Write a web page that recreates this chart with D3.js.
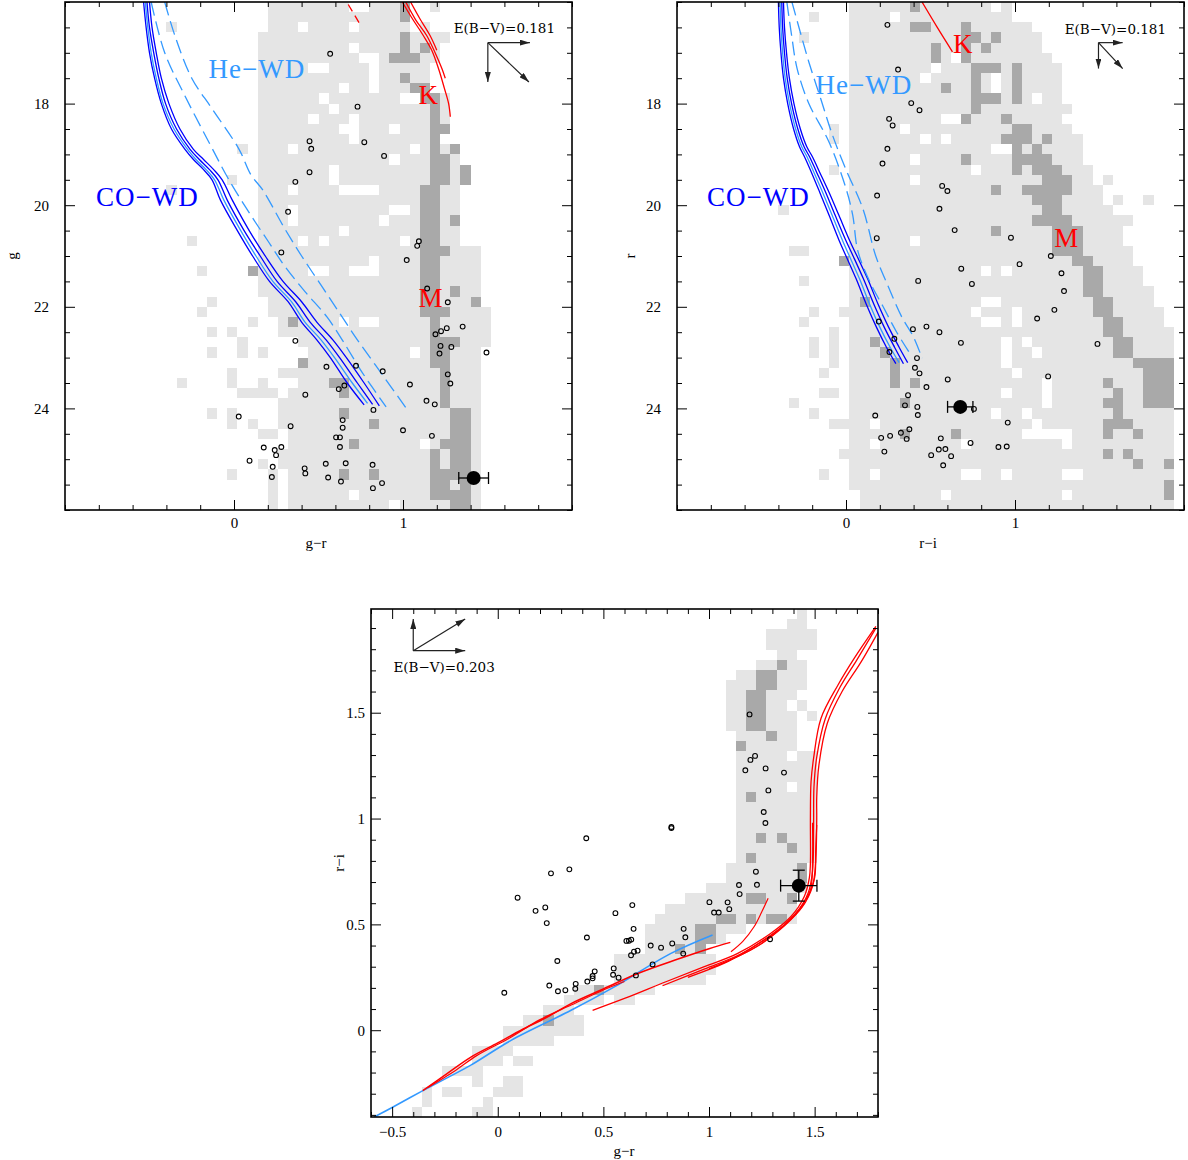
<!DOCTYPE html>
<html>
<head>
<meta charset="utf-8">
<script src="https://cdn.jsdelivr.net/npm/d3@7"></script>
<style>
  body { margin: 0; background: #fff; }
  svg { display: block; }
</style>
</head>
<body>
<div id="chart"></div>
<script>
// colours
var LIGHT = "#e5e5e5", DARK = "#a9a9a9", BLUE = "#0000ff", LBLUE = "#3399ff", RED = "#ff0000";

// ---------- panel 1 : g vs g-r ----------
// density map, one string per 0.2 mag row (o = light, X = dark), first char is bin 9 of 50
var p1Rows = [
  "...........oooooooo..oooX..o......",
  "...........oooooooooooooX.........",
  ".o.........ooo.oooo.ooooo.o.......",
  "..........ooooooooooooooXoooo.....",
  "..........ooooooooo.ooooXoXo......",
  "..........oooooooooo..oXXXoo......",
  "..........ooooo..oooo.ooooo.......",
  "..........ooooooooooo.ooXoo.......",
  "..........oooooooo.oo.oooXX.......",
  "..........oooooo.ooooooo..XXo.....",
  "..........ooooooo.oooooooooXo.....",
  "..........ooooo.ooo.oooooooXo.....",
  "..........oooooooo..ooo.oooXX.....",
  "..........ooooooooo.oooooooX......",
  "........o.ooo.ooooooooooo.oXoX....",
  "..........ooooooooooooo.oooXXo....",
  "..........ooooooo.oooooooooXXoX...",
  ".......o..ooooooo.oooooooooXXoX...",
  ".o........ooo.oooo....ooooXXoo....",
  "..........ooooooooooooooooXXoo....",
  "..........ooo.ooooooooo..oXXoo....",
  "..........ooo.oooooooo.oooXXoX....",
  "..........oooooooo.oooooooXXoo....",
  "...o......oooo.o.ooooooo.oXXoo....",
  "..........ooooooooooooooooXXXooo..",
  "..........ooooooooooo.ooooXXoooo..",
  "....o....Xooooo..oo...ooooXXoooo..",
  "..........ooooooooooooooooXXoooo..",
  "..........ooooooooooooooooXXoXoo..",
  ".....o.....oooooooooooooooXXoooX..",
  "....o......oooooooooooooooXXXoooo.",
  ".........o..oXoooo.o..oooooXooooo.",
  ".....o.o....oooooooooooooooXooooo.",
  "........o.....oooooooooooooXXXooo.",
  ".....o..o.o....oooooooooo.oXXooo..",
  "..............XooooooooooooXXooo..",
  ".......o....ooooooooooooooooXooo..",
  "..o....o..o...oooXXoooooooooXooo..",
  "........oooo.oooooXoooooooooXooo..",
  "............ooooooooooooooooXooo..",
  ".....o.o....ooooooXooooooooooXXo..",
  ".......o.o..oooooooooXoooooooXXo..",
  "..........oo.ooooooooooooooooXXo..",
  ".............ooooooXoooooo.oXXXo..",
  "............oooooooooooooooXoXXo..",
  "..........o.oooooooooooooooXoXXo..",
  ".......o...o.oooooXooXoooooXXXXo..",
  "...........o.ooooooooooooooXXoXo..",
  "...........o.oooooo.oooooooXXXXo..",
  "...........o.oooooooooo.oooooXXo.."
];
var p1CoA = [[-0.535,16.0],[-0.52,16.5],[-0.50,17.0],[-0.47,17.5],[-0.43,18.0],[-0.37,18.5],[-0.29,18.9],[-0.24,19.1],[-0.18,19.3],[-0.13,19.5],[-0.08,19.9],[0.02,20.5],[0.11,21.0],[0.21,21.5],[0.32,21.9],[0.40,22.3],[0.49,22.65],[0.57,23.0],[0.67,23.5],[0.77,23.93]];
var p1CoB = [[-0.525,16.0],[-0.51,16.5],[-0.49,17.0],[-0.46,17.5],[-0.42,18.0],[-0.355,18.5],[-0.275,18.9],[-0.225,19.1],[-0.165,19.3],[-0.115,19.5],[-0.06,19.9],[0.04,20.5],[0.13,21.0],[0.23,21.5],[0.34,21.9],[0.42,22.3],[0.515,22.65],[0.595,23.0],[0.70,23.5],[0.79,23.9]];
var p1CoC = [[-0.515,16.0],[-0.50,16.5],[-0.475,17.0],[-0.445,17.5],[-0.405,18.0],[-0.34,18.5],[-0.26,18.9],[-0.205,19.1],[-0.145,19.3],[-0.095,19.5],[-0.04,19.9],[0.06,20.5],[0.155,21.0],[0.255,21.5],[0.365,21.9],[0.45,22.3],[0.545,22.65],[0.625,23.0],[0.73,23.5],[0.82,23.92]];
var p1CoD = [[-0.50,16.0],[-0.485,16.5],[-0.46,17.0],[-0.43,17.5],[-0.385,18.0],[-0.32,18.5],[-0.24,18.9],[-0.18,19.1],[-0.12,19.3],[-0.07,19.5],[-0.01,19.9],[0.09,20.5],[0.185,21.0],[0.29,21.5],[0.40,21.9],[0.49,22.3],[0.585,22.65],[0.665,23.0],[0.77,23.5],[0.86,23.95]];
var p1HeA = [[-0.49,16.0],[-0.41,17.0],[-0.29,17.85],[-0.15,18.75],[-0.03,19.5],[0.10,20.2],[0.20,20.7],[0.30,21.2],[0.42,21.7],[0.55,22.2],[0.64,22.65],[0.76,23.3],[0.90,23.97]];
var p1HeB = [[-0.41,16.0],[-0.35,16.66],[-0.25,17.5],[-0.13,18.1],[0.03,18.9],[0.10,19.4],[0.17,19.7],[0.30,20.46],[0.40,21.0],[0.52,21.6],[0.63,22.15],[0.73,22.65],[0.87,23.3],[1.02,24.0]];
var p1K1 = [[0.996,16.0],[1.05,16.3],[1.12,16.66],[1.17,16.95],[1.21,17.31],[1.245,17.7],[1.27,18.0],[1.28,18.26]];
var p1K2 = [[1.016,16.0],[1.075,16.35],[1.14,16.66],[1.19,17.0],[1.23,17.31],[1.25,17.5]];
var p1K3 = [[1.045,16.0],[1.10,16.33],[1.16,16.66],[1.20,16.95]];
var p1KDash = [[0.676,16.05],[0.755,16.49]];
var p1Open = [[0.569,17.02],[0.731,18.06],[0.447,18.74],[0.457,18.89],[0.771,18.76],[0.888,19.03],[0.447,19.35],[0.363,19.54],[0.32,20.13],[1.094,20.71],[1.084,20.80],[0.28,20.93],
  [1.022,21.08],[1.143,21.64],[1.265,21.91],[1.192,22.54],[1.225,22.48],[1.259,22.42],[1.353,22.39],
  [0.363,22.67],[1.222,22.77],[1.286,22.79],[1.216,22.92],[1.494,22.90],[0.547,23.18],[0.722,23.16],[0.88,23.27],[1.265,23.33],[1.28,23.51],[0.653,23.55],[0.62,23.62],[1.041,23.53],[0.422,23.73],[1.139,23.85],[1.188,23.92],[0.825,24.03],[0.028,24.16],[0.643,24.23],[0.643,24.38],[0.335,24.35],[1.0,24.43],[1.171,24.54],[0.604,24.57],[0.627,24.57],[0.627,24.76],[0.176,24.77],[0.241,24.82],[0.28,24.76],[0.249,24.92],[0.092,25.03],[0.229,25.15],[0.224,25.35],[0.418,25.18],[0.422,25.28],[0.543,25.09],[0.661,25.08],[0.557,25.36],[0.633,25.44],[0.82,25.11],[0.822,25.57],[0.876,25.47]];
var p1Dot = {x: 1.418, y: 25.37, ex: 0.088, ey: 0};

// ---------- panel 2 : r vs r-i ----------
// runs "from:to class" in colour bins (bin index = value + 17)
var p2Rows = [
  "0:5o 6X 7:13o 15o",
  "-4o 0:3o 5:15o",
  "0:5o 6:7X 8:10o 11X 12:17o",
  "-5o 0:10o 11:12X 13o 14X 15:18o",
  "0:7o 8X 9:10o 11X 12o 13X 14:18o",
  "0:7o 8X 9o 11X 12:19o",
  "0:7o 9:11o 12:14X 15o 16X 17:20o",
  "0:6o 8:11o 12X 13o 15o 16X 17:20o",
  "0:8o 9X 10:11o 12X 13o 15o 16X 17:20o",
  "0:11o 12:14X 15o 16X 17o 19:20o",
  "0:11o 12X 13:21o",
  "0:8o 11X 12:14o 15X 16:20o",
  "-2o 0:4o 6:15o 16:17X 18:21o",
  "-2o 0:6o 8o 10:14o 15:17X 18o 19X 20:22o",
  "0:13o 16X 17o 18X 19:22o",
  "0:5o 7:10o 11X 12:15o 16:19X 20:22o",
  "-2o 0:11o 13:15o 16X 17o 18:20X 21:23o",
  "0:5o 7:18o 19:21X 22:23o 25o",
  "0:13o 14X 15:16o 17:21X 22:24o",
  "0:17o 18:20X 21:24o 26o 29o",
  "-7o 0:18o 19:20X 21:25o",
  "0:17o 18:21X 22:27o",
  "0:13o 14X 15:19o 20:22X 23:26o",
  "0:5o 7:19o 20:22X 23:26o",
  "-6:-5o 0:19o 20:22X 23:27o",
  "-1X 0:21o 22:23X 24:27o",
  "0:12o 14o 16:22o 23:24X 25:28o",
  "-5o 0:22o 23:24X 25:28o",
  "0:22o 23:24X 25:29o",
  "0o 1X 2:12o 15:23o 24:25X 26:29o",
  "-4o -1o 0:11o 13:15o 17:23o 24:25X 26:30o",
  "-5o 0:12o 15o 17:24o 25:26X 27:30o",
  "-2o 0:24o 25:26X 27:31o",
  "-4o -2o 0:1o 2X 3:14o 16o 18:25o 26:27X 28:31o",
  "-4o -2o 0:2o 3X 4:14o 16:17o 19:25o 26:27X 28:31o",
  "-2o 0:3o 4X 5:14o 16:27o 28:31X",
  "-3o 0:3o 4X 5:15o 17:28o 29:31X",
  "0:3o 4X 5o 6X 7:18o 20:24o 25X 26:28o 29:31X",
  "-3:-2o 0:14o 16:18o 20:25o 26X 27:28o 29:31X",
  "-6o 0:4o 5X 6:18o 20:24o 25:26X 27:28o 29:31X",
  "-4o 0:13o 15:16o 18:25o 26X 27:31o",
  "-2:-1o 0:1o 3:17o 19:24o 25:27X 28:31o",
  "0:4o 5X 6:9o 10X 11:16o 22:24o 25X 26:27o 28X 29:31o",
  "0:1o 3:10o 12:20o 22:31o",
  "-1o 0:24o 25X 26o 27X 28:31o",
  "0:27o 28X 29:30o 31X",
  "-3o 0:1o 3:10o 13:14o 16:20o 23:31o",
  "0:30o 31X",
  "1:8o 10:20o 22:30o 31X",
  "1:31o"
];
var p2CoA = [[-0.40,16.0],[-0.395,16.5],[-0.385,17.0],[-0.37,17.5],[-0.345,18.0],[-0.31,18.5],[-0.275,18.85],[-0.245,19.05],[-0.205,19.35],[-0.155,19.75],[-0.10,20.2],[-0.04,20.7],[0.0,21.0],[0.06,21.45],[0.12,21.95],[0.18,22.4],[0.24,22.8],[0.295,23.12]];
var p2CoB = [[-0.39,16.0],[-0.385,16.5],[-0.375,17.0],[-0.36,17.5],[-0.334,18.0],[-0.298,18.5],[-0.262,18.85],[-0.23,19.05],[-0.19,19.35],[-0.138,19.75],[-0.082,20.2],[-0.02,20.7],[0.02,21.0],[0.08,21.45],[0.14,21.95],[0.20,22.4],[0.262,22.8],[0.315,23.1]];
var p2CoC = [[-0.38,16.0],[-0.375,16.5],[-0.364,17.0],[-0.348,17.5],[-0.322,18.0],[-0.285,18.5],[-0.248,18.85],[-0.215,19.05],[-0.174,19.35],[-0.12,19.75],[-0.064,20.2],[0.0,20.7],[0.042,21.0],[0.103,21.45],[0.165,21.95],[0.226,22.4],[0.288,22.8],[0.34,23.12]];
var p2CoD = [[-0.37,16.0],[-0.364,16.5],[-0.352,17.0],[-0.335,17.5],[-0.308,18.0],[-0.27,18.5],[-0.232,18.85],[-0.198,19.05],[-0.156,19.35],[-0.10,19.75],[-0.042,20.2],[0.022,20.7],[0.065,21.0],[0.128,21.45],[0.19,21.95],[0.252,22.4],[0.315,22.8],[0.365,23.1]];
var p2HeA = [[-0.35,16.0],[-0.32,16.7],[-0.29,17.3],[-0.22,18.0],[-0.10,18.76],[0.0,19.67],[0.04,20.2],[0.07,20.9],[0.14,21.5],[0.22,22.0],[0.30,22.5],[0.39,22.98]];
var p2HeB = [[-0.32,16.0],[-0.27,16.6],[-0.22,17.18],[-0.15,17.9],[-0.08,18.62],[0.0,19.3],[0.10,20.07],[0.176,21.0],[0.25,21.6],[0.33,22.2],[0.40,22.6],[0.45,23.01]];
var p2K = [[0.45,16.0],[0.54,16.5],[0.63,16.98]];
var p2Open = [[0.245,16.45],[0.308,17.33],[0.386,17.99],[0.435,18.13],[0.255,18.30],[0.276,18.43],[0.245,18.89],[0.216,19.18],[0.569,19.62],[0.6,19.72],[0.184,19.81],[0.553,20.07],[0.643,20.49],[0.976,20.64],[0.182,20.65],[1.212,21.0],
  [0.682,21.25],[1.027,21.16],[1.275,21.34],[0.427,21.49],[0.745,21.55],[1.29,21.69],[1.233,22.06],[1.131,22.23],[0.194,22.29],[0.396,22.44],[0.476,22.39],[0.553,22.50],[0.68,22.71],[0.286,22.63],[1.488,22.73],[0.257,22.89],[0.42,23.01],[0.408,23.20],[0.435,23.31],[0.602,23.43],[1.196,23.37],[0.476,23.58],[0.367,23.74],[0.349,23.94],[0.422,23.97],[0.425,24.13],[0.173,24.14],[0.757,24.01],[0.957,24.28],[0.208,24.58],[0.261,24.54],[0.325,24.48],[0.375,24.41],[0.359,24.60],[0.561,24.59],[0.737,24.68],[0.902,24.76],[0.951,24.75],[0.227,24.85],[0.549,24.81],[0.588,24.80],[0.504,24.92],[0.622,24.94],[0.575,25.12]];
var p2Dot = {x: 0.676, y: 23.97, ex: 0.075, ey: 0};

// ---------- panel 3 : r-i vs g-r ----------
// runs in bins of 0.048 (50 per axis), rows from the bottom
var p3Rows = [
  "4o 10:11o", "5o 11o", "5o 7:8o 12:14o", "10o 13:14o", "7:10o",
  "10:12o 14:15o", "10:13o", "13:17o", "13:20o", "15:16o 17X 18:20o",
  "17:19o", "19:22o 24:25o", "20:21o 22X 23:27o", "24:32o", "24:33o",
  "24:33o", "27:29o 30X 31o 32X", "27:31o 32:33X 34o", "27:31o 32:33X 34:36o", "28:33o 34:35X 36o 37X 38o 39:40X 41o",
  "29:41o", "31:36o 37:38X 39:40o 41X", "33:42o", "35:41o 42X", "35:41o 42X",
  "36o 37X 38:43o", "36:40o 41X 42:43o", "36:37o 38X 39o 40X 41:43o", "36:43o", "36:43o",
  "36:43o", "36o 37X 38:43o", "36:40o 42:43o", "36:43o", "36:43o",
  "36:40o 42:43o", "36X 37:41o", "36:38o 39X 40:41o", "35:36o 37:38X 39:41o", "35:36o 37:38X 39:41o 43o",
  "35:36o 37:38X 39:40o 42o", "35:36o 37:38X 39:41o", "35:37o 38:39X 40:42o", "36:37o 38:39X 40:42o", "38:39o 40X 41:42o",
  "40:41o", "39:43o", "39:43o", "41:42o", "42o"
];
var p3WD = [[-0.585,-0.41],[-0.50,-0.365],[-0.363,-0.29],[-0.24,-0.225],[-0.127,-0.165],[0.063,-0.048],[0.347,0.094],[0.552,0.205],[0.82,0.363],[1.017,0.45]];
var p3RA = [[-0.355,-0.285],[-0.24,-0.205],[-0.127,-0.127],[0.0,-0.06],[0.11,0.0],[0.23,0.06],[0.347,0.126],[0.504,0.197],[0.663,0.268],[0.85,0.335],[1.0,0.385],[1.101,0.415]];
var p3RA2 = [[-0.33,-0.27],[-0.20,-0.19],[-0.10,-0.12],[0.05,-0.04],[0.20,0.05],[0.35,0.12],[0.50,0.19],[0.60,0.23]];
var p3RB1 = [[0.449,0.094],[0.60,0.15],[0.796,0.229],[0.978,0.30],[1.136,0.363],[1.293,0.458],[1.388,0.537],[1.451,0.632],[1.475,0.72],[1.48,0.79],[1.48,1.0],[1.483,1.173],[1.495,1.284],[1.53,1.473],[1.61,1.63],[1.688,1.758],[1.79,1.908]];
var p3RB2 = [[0.78,0.21],[0.98,0.29],[1.15,0.36],[1.31,0.46],[1.41,0.55],[1.47,0.65],[1.49,0.75],[1.495,0.95],[1.497,1.15],[1.51,1.29],[1.55,1.47],[1.62,1.62],[1.70,1.75],[1.79,1.90]];
var p3RB3 = [[0.90,0.25],[1.10,0.33],[1.25,0.42],[1.36,0.50],[1.44,0.58],[1.49,0.68],[1.505,0.80],[1.51,1.0],[1.51,1.1],[1.52,1.25],[1.56,1.45],[1.63,1.60],[1.72,1.74],[1.80,1.88]];
var p3RB4 = [[1.0,0.29],[1.2,0.38],[1.33,0.47],[1.43,0.57],[1.48,0.66],[1.49,0.80],[1.49,0.98]];
var p3RB5 = [[1.05,0.31],[1.25,0.41],[1.38,0.52],[1.46,0.62],[1.50,0.72],[1.505,0.85],[1.51,0.97]];
var p3RC = [[1.104,0.371],[1.16,0.42],[1.214,0.49],[1.25,0.56],[1.28,0.624]];
var p3Open = [[1.192,1.492],[1.218,1.296],[1.196,1.277],[1.172,1.228],[1.268,1.237],[1.355,1.217],[1.281,1.133],[1.259,1.031],[1.267,0.979],[0.419,0.907],[0.822,0.96],[0.822,0.955],
  [0.252,0.741],[0.339,0.760],[0.094,0.626],[0.179,0.564],[0.225,0.580],[0.232,0.506],[1.222,0.749],[1.227,0.687],[1.142,0.686],[1.145,0.643],[1.002,0.605],[1.088,0.604],[1.024,0.556],[1.046,0.556],[1.096,0.572],[0.557,0.553],[0.637,0.591],[0.422,0.438],[0.643,0.479],[0.88,0.479],[0.888,0.439],[0.609,0.422],[0.621,0.423],[0.632,0.428],[0.724,0.40],[0.773,0.39],[0.826,0.41],[0.645,0.371],[0.662,0.376],[0.631,0.354],[0.878,0.362],[0.282,0.327],[0.733,0.311],[0.549,0.292],[0.459,0.278],[0.546,0.262],[0.572,0.248],[0.654,0.259],[0.449,0.256],[0.449,0.245],[0.424,0.230],[0.369,0.219],[0.367,0.196],[0.32,0.189],[0.285,0.184],[0.244,0.211],[0.031,0.177],[1.289,0.430]];
var p3Dot = {x: 1.425, y: 0.683, ex: 0.086, ey: 0.073};

// reddening arrows: origin and the three tips
var p1Arrow = {o: [1.502,16.80], tips: [[1.751,16.80],[1.502,17.575],[1.745,17.575]], label: "E(B−V)=0.181", at: [1.60,16.51]};
var p2Arrow = {o: [1.494,16.80], tips: [[1.637,16.80],[1.494,17.31],[1.637,17.31]], label: "E(B−V)=0.181", at: [1.594,16.53]};
var p3Arrow = {o: [-0.40,1.793], tips: [[-0.40,1.943],[-0.154,1.793],[-0.154,1.943]], label: "E(B−V)=0.203", at: [-0.254,1.716]};

var svg = d3.select("#chart").append("svg")
  .attr("width", 1188).attr("height", 1160);

var defs = svg.append("defs");
defs.append("marker").attr("id", "arr")
  .attr("viewBox", "0 0 10 6").attr("refX", 10).attr("refY", 3)
  .attr("markerWidth", 10).attr("markerHeight", 6).attr("markerUnits", "userSpaceOnUse")
  .attr("orient", "auto")
  .append("path").attr("d", "M0,0 L10,3 L0,6 Z").attr("fill", "#222");

function parseStrings(rows, off) {
  var cells = [];
  rows.forEach(function(s, r) {
    for (var i = 0; i < s.length; i++) {
      if (s[i] === "o" || s[i] === "X") cells.push({n: i + off, r: r, dark: s[i] === "X"});
    }
  });
  return cells;
}
function parseRuns(rows, off) {
  var cells = [];
  rows.forEach(function(s, r) {
    s.split(" ").forEach(function(tok) {
      var m = tok.match(/^(-?\d+)(?::(-?\d+))?([oX])$/);
      if (!m) return;
      var a = +m[1], b = m[2] === undefined ? a : +m[2];
      for (var c = a; c <= b; c++) cells.push({n: c + off, r: r, dark: m[3] === "X"});
    });
  });
  return cells;
}

var TICKFONT = "'Liberation Serif', 'Times New Roman', serif";
var LABFONT = "'Liberation Serif', 'Times New Roman', serif";

var panels = [
  {
    left: 65, right: 572, top: 2, bottom: 510,
    xDomain: [-1, 2], yDomain: [16, 26],
    bin: {x0: -1, dx: 0.06, y0: 16, dy: 0.2},
    cells: parseStrings(p1Rows, 9),
    xMajor: [0, 1], xMinorStep: 0.2, yMajor: [18, 20, 22, 24], yMinorStep: 0.5,
    xPad: 7, yPad: 16,
    xTitle: "g−r", xTitleAt: [316, 543], yTitle: "g", yTitleAt: [12, 256],
    lines: [
      {pts: p1CoA, color: BLUE}, {pts: p1CoB, color: LBLUE}, {pts: p1CoC, color: BLUE}, {pts: p1CoD, color: BLUE},
      {pts: p1HeA, color: LBLUE, dash: "14,6"}, {pts: p1HeB, color: LBLUE, dash: "14,6"},
      {pts: p1K1, color: RED}, {pts: p1K2, color: RED}, {pts: p1K3, color: RED}, {pts: p1KDash, color: RED, dash: "8,5"}
    ],
    labels: [
      {t: "He−WD", at: [0.135, 17.32], color: LBLUE}, {t: "CO−WD", at: [-0.512, 19.84], color: BLUE},
      {t: "K", at: [1.153, 17.83], color: RED}, {t: "M", at: [1.165, 21.83], color: RED}
    ],
    open: p1Open, dot: p1Dot, arrow: p1Arrow
  },
  {
    left: 677, right: 1184, top: 2, bottom: 510,
    xDomain: [-1, 2], yDomain: [16, 26],
    bin: {x0: -1, dx: 0.06, y0: 16, dy: 0.2},
    cells: parseRuns(p2Rows, 17),
    xMajor: [0, 1], xMinorStep: 0.2, yMajor: [18, 20, 22, 24], yMinorStep: 0.5,
    xPad: 7, yPad: 16,
    xTitle: "r−i", xTitleAt: [928, 543], yTitle: "r", yTitleAt: [630, 256],
    lines: [
      {pts: p2CoA, color: BLUE}, {pts: p2CoB, color: LBLUE}, {pts: p2CoC, color: BLUE}, {pts: p2CoD, color: BLUE},
      {pts: p2HeA, color: LBLUE, dash: "14,6"}, {pts: p2HeB, color: LBLUE, dash: "14,6"},
      {pts: p2K, color: RED}
    ],
    labels: [
      {t: "He−WD", at: [0.106, 17.63], color: LBLUE}, {t: "CO−WD", at: [-0.518, 19.84], color: BLUE},
      {t: "K", at: [0.694, 16.83], color: RED}, {t: "M", at: [1.306, 20.65], color: RED}
    ],
    open: p2Open, dot: p2Dot, arrow: p2Arrow
  },
  {
    left: 371, right: 878, top: 609, bottom: 1117,
    xDomain: [-0.6, 1.8], yDomain: [1.99, -0.41],
    bin: {x0: -0.6, dx: 0.048, y0: -0.41, dy: 0.048},
    cells: parseRuns(p3Rows, 0),
    xMajor: [-0.5, 0, 0.5, 1, 1.5], xMinorStep: 0.1, yMajor: [0, 0.5, 1, 1.5], yMinorStep: 0.1,
    xPad: 9, yPad: 6,
    xTitle: "g−r", xTitleAt: [624, 1151], yTitle: "r−i", yTitleAt: [339, 863],
    lines: [
      {pts: p3WD, color: LBLUE, w: 1.6},
      {pts: p3RA, color: RED, w: 1.5}, {pts: p3RA2, color: RED, w: 1.2},
      {pts: p3RB1, color: RED, w: 1.3}, {pts: p3RB2, color: RED, w: 1.3}, {pts: p3RB3, color: RED, w: 1.3},
      {pts: p3RB4, color: RED, w: 1.2}, {pts: p3RB5, color: RED, w: 1.2}, {pts: p3RC, color: RED, w: 1.2}
    ],
    labels: [],
    open: p3Open, dot: p3Dot, arrow: p3Arrow
  }
];

var fmt = d3.format("~g");

panels.forEach(function(p, pi) {
  var x = d3.scaleLinear().domain(p.xDomain).range([p.left, p.right]);
  var y = d3.scaleLinear().domain(p.yDomain).range([p.top, p.bottom]);
  var g = svg.append("g");

  defs.append("clipPath").attr("id", "clip" + pi)
    .append("rect").attr("x", p.left).attr("y", p.top)
    .attr("width", p.right - p.left).attr("height", p.bottom - p.top);

  // density cells
  var b = p.bin;
  g.append("g").attr("clip-path", "url(#clip" + pi + ")")
    .selectAll("rect").data(p.cells).enter().append("rect")
    .attr("x", function(d) { return x(b.x0 + d.n * b.dx); })
    .attr("width", function(d) { return x(b.x0 + (d.n + 1) * b.dx) - x(b.x0 + d.n * b.dx); })
    .attr("y", function(d) { return Math.min(y(b.y0 + d.r * b.dy), y(b.y0 + (d.r + 1) * b.dy)); })
    .attr("height", function(d) { return Math.abs(y(b.y0 + (d.r + 1) * b.dy) - y(b.y0 + d.r * b.dy)); })
    .attr("fill", function(d) { return d.dark ? DARK : LIGHT; })
    .attr("shape-rendering", "crispEdges");

  // tracks
  var line = d3.line()
    .x(function(d) { return x(d[0]); })
    .y(function(d) { return y(d[1]); })
    .curve(d3.curveCatmullRom.alpha(0.5));
  g.append("g").attr("clip-path", "url(#clip" + pi + ")")
    .selectAll("path").data(p.lines).enter().append("path")
    .attr("d", function(d) { return line(d.pts); })
    .attr("fill", "none")
    .attr("stroke", function(d) { return d.color; })
    .attr("stroke-width", function(d) { return d.w || 1.3; })
    .attr("stroke-dasharray", function(d) { return d.dash || null; });

  // model labels
  g.selectAll("text.lab").data(p.labels).enter().append("text")
    .attr("class", "lab")
    .attr("x", function(d) { return x(d.at[0]); })
    .attr("y", function(d) { return y(d.at[1]); })
    .attr("text-anchor", "middle").attr("dominant-baseline", "central")
    .attr("fill", function(d) { return d.color; })
    .style("font-family", LABFONT).style("font-size", "27px").style("letter-spacing", "1px")
    .text(function(d) { return d.t; });

  // open circles
  g.append("g").selectAll("circle").data(p.open).enter().append("circle")
    .attr("cx", function(d) { return x(d[0]); })
    .attr("cy", function(d) { return y(d[1]); })
    .attr("r", 2.4).attr("fill", "none").attr("stroke", "#000").attr("stroke-width", 1.1);

  // filled target with error bars
  var dt = p.dot, cx = x(dt.x), cy = y(dt.y);
  var eb = g.append("g").attr("stroke", "#000").attr("stroke-width", 1.3);
  eb.append("line").attr("x1", x(dt.x - dt.ex)).attr("x2", x(dt.x + dt.ex)).attr("y1", cy).attr("y2", cy);
  eb.append("line").attr("x1", x(dt.x - dt.ex)).attr("x2", x(dt.x - dt.ex)).attr("y1", cy - 6).attr("y2", cy + 6);
  eb.append("line").attr("x1", x(dt.x + dt.ex)).attr("x2", x(dt.x + dt.ex)).attr("y1", cy - 6).attr("y2", cy + 6);
  if (dt.ey > 0) {
    eb.append("line").attr("x1", cx).attr("x2", cx).attr("y1", y(dt.y - dt.ey)).attr("y2", y(dt.y + dt.ey));
    eb.append("line").attr("x1", cx - 6).attr("x2", cx + 6).attr("y1", y(dt.y - dt.ey)).attr("y2", y(dt.y - dt.ey));
    eb.append("line").attr("x1", cx - 6).attr("x2", cx + 6).attr("y1", y(dt.y + dt.ey)).attr("y2", y(dt.y + dt.ey));
  }
  g.append("circle").attr("cx", cx).attr("cy", cy).attr("r", 7).attr("fill", "#000");

  // reddening vectors
  var ar = p.arrow;
  g.append("g").selectAll("line").data(ar.tips).enter().append("line")
    .attr("x1", x(ar.o[0])).attr("y1", y(ar.o[1]))
    .attr("x2", function(d) { return x(d[0]); }).attr("y2", function(d) { return y(d[1]); })
    .attr("stroke", "#222").attr("stroke-width", 1.2).attr("marker-end", "url(#arr)");
  g.append("text").attr("x", x(ar.at[0])).attr("y", y(ar.at[1]))
    .attr("text-anchor", "middle").attr("dominant-baseline", "central")
    .style("font-family", "'DejaVu Serif', serif").style("font-size", "13.5px")
    .text(ar.label);

  // axes: ticks on all four sides, pointing inwards
  var xMinor = d3.range(p.xDomain[0], p.xDomain[1] + 1e-9, p.xMinorStep)
    .filter(function(v) { return p.xMajor.every(function(m) { return Math.abs(m - v) > 1e-6; }); });
  var yLo = Math.min(p.yDomain[0], p.yDomain[1]), yHi = Math.max(p.yDomain[0], p.yDomain[1]);
  var yMinor = d3.range(Math.ceil(yLo / p.yMinorStep) * p.yMinorStep, yHi + 1e-9, p.yMinorStep)
    .filter(function(v) { return p.yMajor.every(function(m) { return Math.abs(m - v) > 1e-6; }); });

  function axisG(gen, sc, vals, size, tr, pad, labels) {
    var a = gen(sc).tickValues(vals).tickSize(-size).tickPadding(pad)
      .tickFormat(labels ? fmt : "");
    var ag = g.append("g").attr("transform", tr).call(a);
    ag.select(".domain").remove();
    ag.selectAll("line").attr("stroke", "#000").attr("stroke-width", 1);
    ag.selectAll("text").style("font-family", TICKFONT).style("font-size", "15px").attr("fill", "#000");
  }
  var tb = "translate(0," + p.bottom + ")", tt = "translate(0," + p.top + ")";
  var tl = "translate(" + p.left + ",0)", trr = "translate(" + p.right + ",0)";
  axisG(d3.axisBottom, x, p.xMajor, 10, tb, p.xPad, true);
  axisG(d3.axisBottom, x, xMinor, 5, tb, 0, false);
  axisG(d3.axisTop, x, p.xMajor, 10, tt, 0, false);
  axisG(d3.axisTop, x, xMinor, 5, tt, 0, false);
  axisG(d3.axisLeft, y, p.yMajor, 10, tl, p.yPad, true);
  axisG(d3.axisLeft, y, yMinor, 5, tl, 0, false);
  axisG(d3.axisRight, y, p.yMajor, 10, trr, 0, false);
  axisG(d3.axisRight, y, yMinor, 5, trr, 0, false);

  // frame
  g.append("rect").attr("x", p.left).attr("y", p.top)
    .attr("width", p.right - p.left).attr("height", p.bottom - p.top)
    .attr("fill", "none").attr("stroke", "#000").attr("stroke-width", 1.6);

  // axis titles
  g.append("text").attr("x", p.xTitleAt[0]).attr("y", p.xTitleAt[1])
    .attr("text-anchor", "middle").attr("dominant-baseline", "central")
    .style("font-family", TICKFONT).style("font-size", "15px").text(p.xTitle);
  g.append("text")
    .attr("transform", "translate(" + p.yTitleAt[0] + "," + p.yTitleAt[1] + ") rotate(-90)")
    .attr("text-anchor", "middle").attr("dominant-baseline", "central")
    .style("font-family", TICKFONT).style("font-size", "15px").text(p.yTitle);
});
</script>
</body>
</html>
